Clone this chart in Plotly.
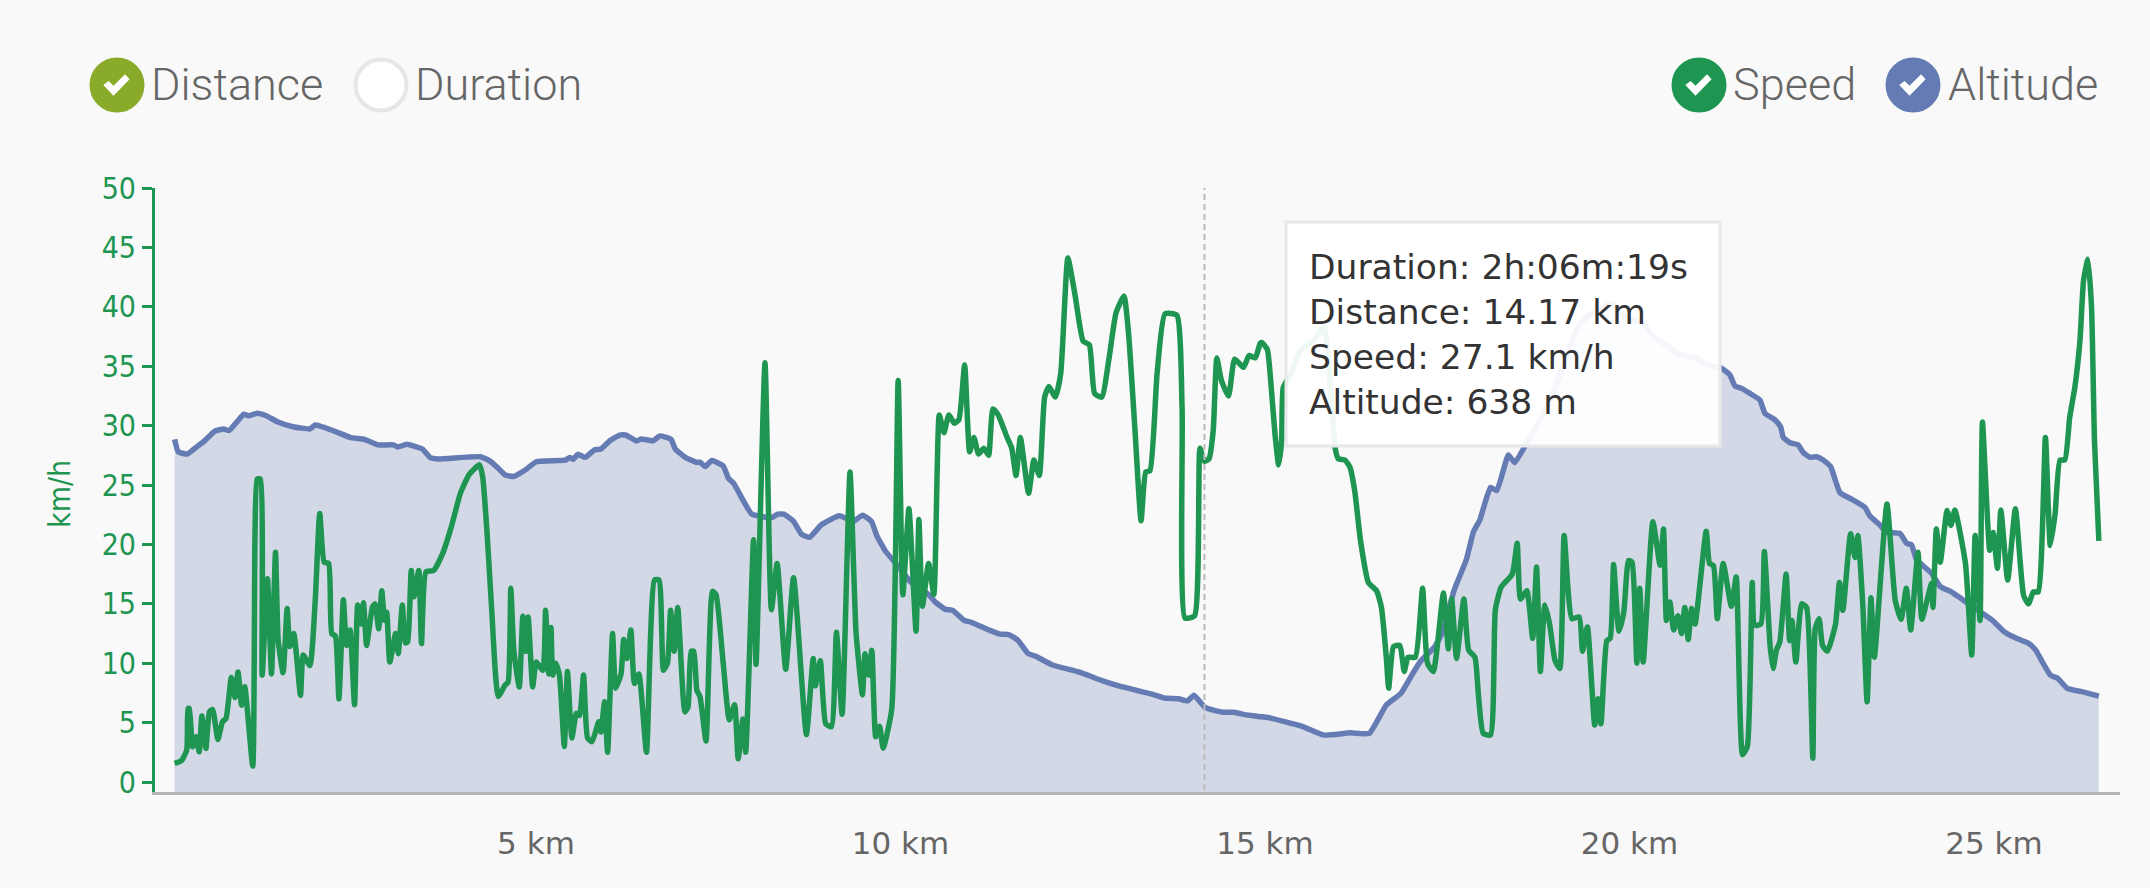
import plotly.graph_objects as go

W, H = 2150, 888
L, R, T, B = 155, 30, 188, 96

speed_km = [0.043,0.135,0.209,0.227,0.245,0.288,0.337,0.380,0.417,0.472,0.521,0.564,0.637,0.699,0.748,0.821,0.870,0.913,0.962,1.005,1.115,1.146,1.176,1.219,1.244,1.317,1.372,1.427,1.464,1.531,1.587,1.623,1.678,1.770,1.807,1.899,1.972,2.034,2.095,2.156,2.199,2.248,2.297,2.358,2.401,2.450,2.511,2.554,2.597,2.634,2.677,2.756,2.793,2.842,2.885,2.922,2.952,2.995,3.075,3.111,3.167,3.209,3.240,3.289,3.326,3.393,3.430,3.491,3.595,3.718,3.840,3.963,4.085,4.226,4.269,4.330,4.391,4.483,4.575,4.618,4.655,4.697,4.771,4.820,4.857,4.893,4.955,5.004,5.095,5.132,5.175,5.206,5.230,5.273,5.322,5.389,5.432,5.493,5.555,5.598,5.653,5.708,5.769,5.861,5.891,5.941,5.983,6.051,6.094,6.167,6.204,6.247,6.302,6.351,6.412,6.516,6.626,6.688,6.749,6.804,6.847,6.896,6.945,7.043,7.086,7.129,7.165,7.208,
7.25,7.333,7.421,7.47,7.568,7.652,7.725,7.774,7.838,7.877,7.985,8.019,8.142,8.23,8.308,8.426,8.534,8.71,8.803,8.833,8.901,8.975,9.053,9.122,9.2,9.308,9.391,9.479,9.514,9.563,9.607,9.661,9.714,9.763,9.881,9.969,10.033,10.116,10.214,10.253,10.302,10.386,10.459,10.533,10.596,10.665,10.739,10.802,10.881,10.949,11.008,11.072,11.145,11.209,11.268,11.341,11.464,11.527,11.586,11.645,11.758,11.831,11.905,11.978,12.037,12.125,12.199,12.297,12.395,12.507,12.591,12.664,12.762,12.86,12.958,13.066,13.13,13.218,13.301,13.365,13.423,13.521,13.629,13.791,13.864,13.904,14.036,14.109,14.168,14.232,14.291,14.34,14.403,14.501,14.585,14.707,14.781,14.869,14.933,
14.955,15.033,15.079,15.138,15.188,15.229,15.252,15.367,15.481,15.664,15.81,15.892,15.961,16.007,16.098,16.166,16.232,16.312,16.419,16.532,16.598,16.665,16.698,16.764,16.851,16.911,16.964,17.064,17.163,17.23,17.31,17.449,17.516,17.562,17.629,17.729,17.795,17.881,17.928,17.994,18.094,18.161,18.24,18.393,18.46,18.506,18.593,18.673,18.726,18.779,18.839,18.905,18.979,19.045,19.105,19.211,19.311,19.357,19.424,19.524,19.57,19.61,19.69,19.737,19.783,19.856,19.923,19.989,20.036,20.102,20.142,20.189,20.322,20.421,20.468,20.508,20.554,20.608,20.667,20.714,20.76,20.807,20.853,20.9,21.053,21.099,21.153,21.206,21.286,21.399,21.465,21.552,21.618,21.685,21.718,21.804,21.851,21.931,21.971,22.017,22.064,22.15,22.197,22.23,22.283,22.363,22.43,22.516,22.549,22.602,22.649,22.715,22.828,22.881,22.928,23.034,23.094,23.134,23.201,23.261,23.314,23.36,23.533,23.646,23.726,23.799,23.859,23.959,24.012,24.145,24.165,24.211,24.264,24.358,24.411,24.464,24.61,24.696,24.743,24.81,24.843,24.943,24.989,25.049,25.096,25.189,25.295,25.408,25.475,25.541,25.608,25.707,25.774,25.84,25.907,25.973,26.04,26.11,26.18,26.23,26.29,26.34,26.38,26.44]
speed_kmh = [1.57,1.79,2.69,6.19,6.19,2.97,3.81,2.55,5.55,2.83,5.91,6.1,3.58,5.07,5.35,8.79,7.11,9.27,6.47,8.01,1.34,20.9,25.5,25.5,9.0,17.1,9.1,19.35,11.93,9.2,14.6,11.4,12.5,7.3,10.7,9.8,15.3,22.6,18.5,18.4,12.5,12.3,7.0,15.35,11.5,12.8,6.5,14.9,13.3,15.1,11.5,14.7,15.0,12.9,16.1,13.6,14.3,10.1,12.5,10.8,14.9,11.7,11.8,17.8,15.6,17.8,11.65,17.7,17.8,19.2,21.5,24.3,25.9,26.7,25.7,20.9,14.7,7.2,8.15,8.4,16.3,11.0,8.0,13.95,11.0,13.9,8.0,10.1,9.4,14.45,9.1,13.0,9.0,10.0,9.0,3.0,9.3,3.7,5.8,5.6,9.0,3.7,3.4,5.07,4.2,6.75,2.5,12.5,7.9,9.1,12.0,10.4,12.8,8.3,9.1,2.5,17.0,17.0,9.4,10.0,14.45,11.0,14.7,5.9,6.3,11.0,11.0,7.7,
7.2,3.45,16.06,15.76,10.05,5.25,6.5,1.95,5.3,2.5,20.4,9.9,35.3,14.5,18.4,9.5,17.2,4.0,10.4,8.1,10.2,4.9,4.65,12.6,5.7,26.1,12.6,7.35,10.8,9.0,11.1,3.8,4.7,2.85,6.15,33.8,15.76,23.0,12.7,22.1,14.8,18.4,15.8,30.9,29.4,30.9,30.2,30.5,35.1,27.8,29.0,27.6,28.1,27.5,31.4,30.9,29.0,28.1,25.8,29.0,24.3,27.1,25.8,32.4,33.3,32.4,34.4,44.1,41.0,37.1,36.8,32.7,32.4,35.6,39.5,40.9,37.7,29.6,22.0,26.1,26.2,34.4,39.4,39.3,31.4,13.8,14.0,28.1,27.0,27.2,29.6,35.7,33.8,32.5,35.6,34.9,35.9,35.7,36.9,
37.0,36.4,33.8,29.3,26.7,28.7,33.2,34.5,36.3,37.1,38.3,33.8,28.2,27.2,27.1,26.5,24.5,20.3,16.8,16.1,14.7,10.5,7.9,11.4,11.5,9.3,10.5,10.5,16.3,10.0,9.3,15.9,11.2,15.4,10.4,15.4,11.1,10.5,7.4,4.1,3.95,14.5,16.4,17.5,20.1,15.4,16.1,12.1,18.1,9.3,14.9,13.3,10.25,9.55,20.75,13.75,13.9,11.0,13.05,4.8,7.0,4.9,11.9,12.1,18.3,12.7,14.3,18.65,18.5,10.0,16.3,10.1,21.9,18.25,21.3,13.6,15.15,12.8,14.0,12.5,14.7,12.0,14.6,13.3,21.1,18.4,18.2,13.75,18.4,14.8,17.25,2.3,3.0,16.8,13.2,13.3,19.4,11.4,9.55,11.1,11.8,17.5,11.9,13.6,10.1,15.0,14.7,2.0,12.9,13.75,11.5,11.0,13.3,16.8,14.45,20.9,18.9,20.75,15.0,6.75,15.5,10.5,23.4,15.3,13.7,16.3,12.8,19.35,13.7,16.7,14.7,21.3,18.5,22.85,21.6,22.9,18.4,10.7,20.75,13.6,30.3,19.5,21.0,18.0,22.9,17.0,23.0,15.7,15.0,16.0,16.0,29.0,19.9,22.6,27.1,27.1,30.7,33.2,37.1,42.2,44.0,39.9,28.7,20.3]

alt_km = [0.043,0.092,0.215,0.35,0.441,0.595,0.717,0.79,0.9,0.993,1.054,1.176,1.299,1.452,1.666,1.899,1.972,2.095,2.279,2.462,2.646,2.83,3.044,3.105,3.228,3.442,3.546,3.656,4.238,4.361,4.483,4.575,4.697,4.851,5.004,5.402,5.463,5.512,5.573,5.677,5.8,5.891,6.014,6.149,6.228,6.381,6.443,6.608,6.7,6.853,6.914,7.055,7.208,
7.25,7.323,7.412,7.568,7.642,7.715,7.96,8.23,8.318,8.401,8.534,8.646,8.754,8.916,9.161,9.357,9.479,9.602,9.675,9.798,9.945,10.141,10.386,10.484,10.616,10.719,10.876,10.974,11.219,11.366,11.488,11.611,11.748,11.856,12.076,12.444,12.787,13.007,13.472,13.619,13.815,13.938,14.026,14.183,14.428,14.575,14.746,14.933,
15.04,15.51,15.80,16.17,16.432,16.665,16.864,17.03,17.13,17.33,17.43,17.596,17.762,17.862,17.948,18.094,18.181,18.34,18.427,18.59,18.75,18.933,19.185,19.299,19.413,19.779,19.962,
20.053,20.19,20.327,20.51,20.67,20.922,21.105,21.265,21.379,21.448,21.539,21.653,21.79,21.859,21.996,22.074,22.11,22.202,22.316,22.385,22.476,22.568,22.659,22.76,22.888,23.071,23.231,23.299,23.437,23.528,23.711,23.802,23.871,23.94,24.145,24.264,24.411,24.676,24.976,25.142,25.308,25.475,25.574,25.674,25.774,25.874,26.007,26.206,26.439]
alt_m = [761,755.4,754.3,757.7,760,764.8,765.8,765,769.1,772.5,771.8,772.9,771.8,769.1,766.8,765.8,767.6,766.5,764.2,761.8,761,758.5,758.5,757.5,758.8,756.6,752.8,752.1,753.1,751.3,747.8,744.8,744.1,747,750.8,751.5,752.7,751.9,754.2,752.8,756.2,756.6,760.4,763,763,760.3,761.2,760.4,762.6,761,756.5,752.7,750.5,
750.6,748.6,751.4,748.9,743.2,740.8,726.9,725.3,726.9,726.9,723.6,717.6,716.3,722,726.1,723.6,726.4,723.6,717.1,709.8,704.1,695.9,690.2,686.6,683.4,682.9,678.3,677.5,673.9,672.1,671.9,669.3,663.3,662,658.1,654.8,650.6,648.3,644.5,642.9,642.6,641.6,644.2,638.5,636.4,636.4,635.2,634.4,
634,630,626,627,626.8,639.7,645,654.2,659.5,666.4,672.5,692.2,706,718.9,724.2,739.1,737.6,753.9,750.4,759.3,768.4,780.6,803.4,812.5,817.1,823.2,816.3,
815.5,814,807.9,804.1,800,798,794.7,793.5,790.4,785.4,784.3,782,779,772.9,769.9,766.8,762,759.5,758.5,755,752.8,753.1,751.6,748.6,736.7,733.3,730,726,721.9,718.6,718.1,713.6,712.8,706,699.9,693.8,691.5,685.4,678.5,673.2,670.2,667.9,664.8,658.8,653.4,651.9,647.3,645.8,643.8]

x_ticks = [5, 10, 15, 20, 25]
x_tick_labels = ["5 km", "10 km", "15 km", "20 km", "25 km"]
y_ticks = [0, 5, 10, 15, 20, 25, 30, 35, 40, 45, 50]
hover_km = 14.17
tooltip_lines = ["Duration: 2h:06m:19s", "Distance: 14.17 km", "Speed: 27.1 km/h", "Altitude: 638 m"]

GREEN = "#1e9551"
BLUE = "#647bb4"
FILL = "#d3d8e6"
BG = "#f9f9f9"
COND = "DejaVu Sans Condensed, DejaVu Sans"

def px(v):
    return (v - L) / (W - L - R)

def py(v):
    return 1 - (v - T) / (H - T - B)

fig = go.Figure()
fig.add_trace(go.Scatter(x=alt_km, y=alt_m, yaxis="y", mode="lines", fill="tozeroy", fillcolor=FILL,
                         line=dict(color=BLUE, width=5.5, shape="spline", smoothing=0.4), name="Altitude"))
fig.add_trace(go.Scatter(x=speed_km, y=speed_kmh, yaxis="y2", mode="lines",
                         line=dict(color=GREEN, width=5.5, shape="spline", smoothing=0.5), name="Speed"))

shapes = []
annotations = []

def circle(cx, cy, fill, line_color):
    r = 25.5
    shapes.append(dict(type="circle", xref="paper", yref="paper", x0=px(cx - r), x1=px(cx + r), y0=py(cy + r), y1=py(cy - r),
                       fillcolor=fill, line=dict(color=line_color, width=4), layer="above"))

def check(cx, cy):
    pts = [(-13.7, 0), (-3.5, 10.7), (12.6, -5.7), (8, -10.7), (-3.5, 0.7), (-8.4, -4)]
    path = "M " + " L ".join(f"{px(cx + a):.5f} {py(cy + b):.5f}" for a, b in pts) + " Z"
    shapes.append(dict(type="path", xref="paper", yref="paper", path=path, fillcolor="white", line=dict(width=0), layer="above"))

def label(x, y, text, size, color, family, weight=None, anchor="left", angle=0):
    font = dict(size=size, color=color, family=family)
    if weight:
        font["weight"] = weight
    annotations.append(dict(xref="paper", yref="paper", x=px(x), y=py(y), text=text, showarrow=False, xanchor=anchor,
                            yanchor="middle", font=font, align="left", textangle=angle, borderpad=0, borderwidth=0))

for cx, colr, name, tx, on in [(117, "#8aab2a", "Distance", 151, True), (381, "#ffffff", "Duration", 415, False),
                               (1699, GREEN, "Speed", 1733, True), (1913, BLUE, "Altitude", 1948, True)]:
    circle(cx, 85, colr, colr if on else "#e6e6e6")
    if on:
        check(cx, 85)
    label(tx, 85, name, 45, "#666666", "Roboto", weight=300)

shapes.append(dict(type="line", xref="x", yref="paper", x0=hover_km, x1=hover_km, y0=py(790), y1=1,
                   line=dict(color="#bbbbbb", width=2, dash="6px,4px"), layer="above"))
shapes.append(dict(type="rect", xref="paper", yref="paper", x0=px(1286), x1=px(1720), y0=py(446), y1=py(222),
                   fillcolor="rgba(255,255,255,0.93)", line=dict(color="#e8e8e8", width=3), layer="above"))
for i, t in enumerate(tooltip_lines):
    label(1309, 267 + i * 45, t, 34.5, "#333333", "DejaVu Sans")

label(59, 494, "km/h", 30, GREEN, COND, anchor="center", angle=-90)

fig.update_layout(
    width=W, height=H, autosize=False, margin=dict(l=L, r=R, t=T, b=B),
    paper_bgcolor=BG, plot_bgcolor=BG, showlegend=False, shapes=shapes, annotations=annotations,
    font=dict(family=COND),
    xaxis=dict(range=[-0.226, 26.73], tickvals=x_ticks, ticktext=x_tick_labels, showgrid=False, zeroline=False,
               showline=True, linecolor="#b5b3b3", linewidth=3, ticks="", ticklabelstandoff=22,
               tickfont=dict(size=31, color="#666666", family="DejaVu Sans")),
    yaxis=dict(range=[600, 875.8], visible=False),
    yaxis2=dict(range=[-0.84, 50], overlaying="y", side="left", anchor="x", tickvals=y_ticks, showgrid=False,
                zeroline=False, showline=True, linecolor=GREEN, linewidth=3, ticks="outside", ticklen=10,
                tickwidth=3, tickcolor=GREEN, tickfont=dict(size=30, color=GREEN, family=COND)),
)

fig.write_html("out.html", config=dict(displayModeBar=False),
               post_script="document.body.style.margin='0';document.body.style.overflow='hidden';")
